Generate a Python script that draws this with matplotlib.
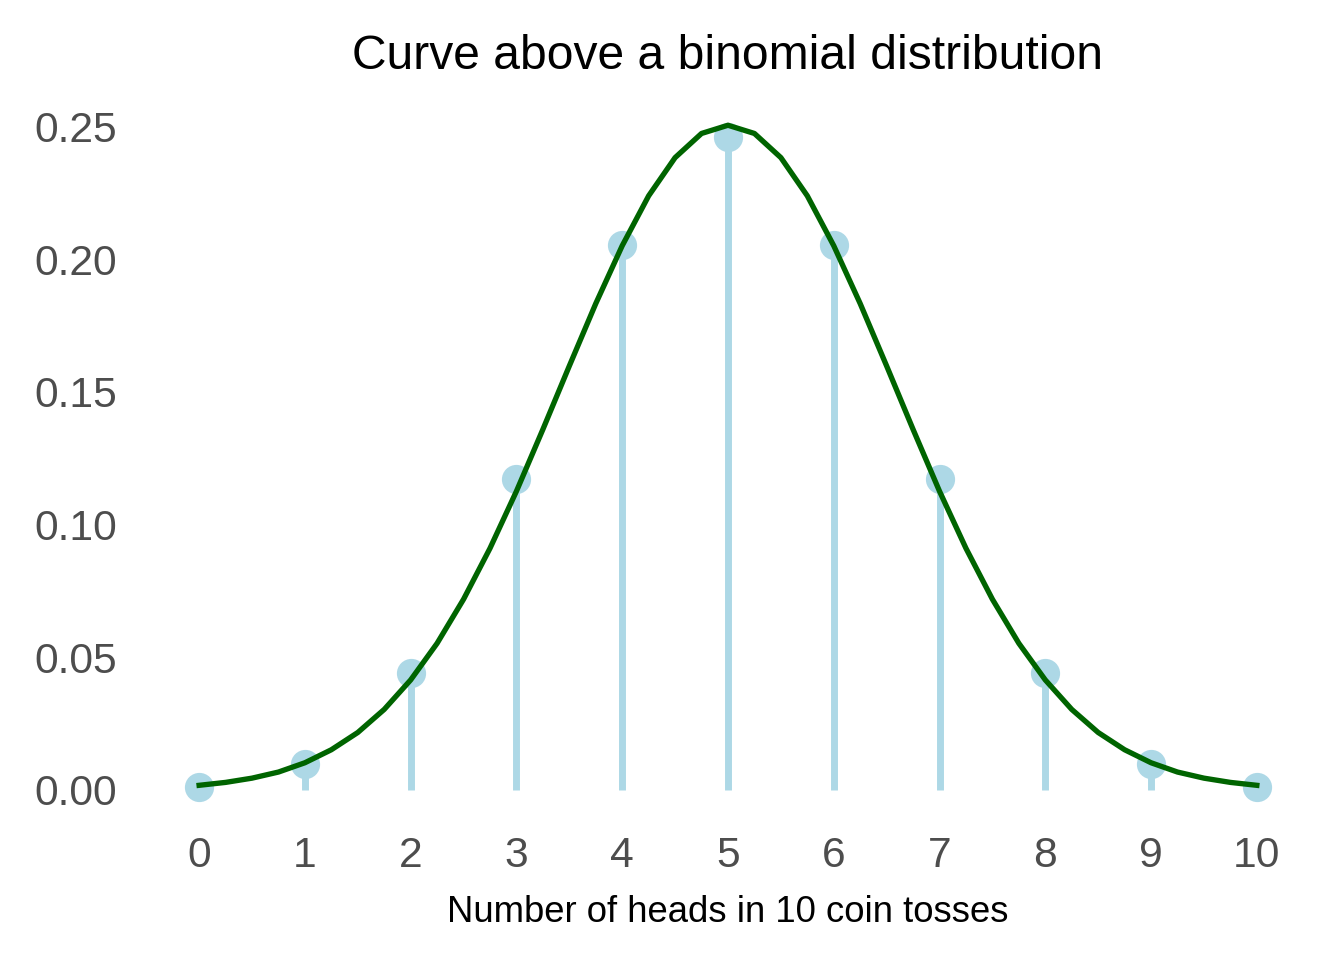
import matplotlib.pyplot as plt

plt.rcParams['font.family'] = ['Liberation Sans', 'DejaVu Sans']

# binomial probabilities, 10 tosses
heads = [0, 1, 2, 3, 4, 5, 6, 7, 8, 9, 10]
prob = [0.001, 0.0098, 0.0439, 0.1172, 0.2051, 0.2461,
        0.2051, 0.1172, 0.0439, 0.0098, 0.001]

# smooth curve
curve_x = [0, 0.25, 0.5, 0.75, 1, 1.25, 1.5, 1.75, 2, 2.25, 2.5, 2.75,
           3, 3.25, 3.5, 3.75, 4, 4.25, 4.5, 4.75, 5,
           5.25, 5.5, 5.75, 6, 6.25, 6.5, 6.75, 7, 7.25, 7.5, 7.75,
           8, 8.25, 8.5, 8.75, 9, 9.25, 9.5, 9.75, 10]
curve_y = [0.0017, 0.0028, 0.0044, 0.0067, 0.0102, 0.0151, 0.0216, 0.0303,
           0.0414, 0.0552, 0.0718, 0.0910, 0.1125, 0.1358, 0.1597, 0.1832,
           0.2050, 0.2238, 0.2382, 0.2473, 0.2504,
           0.2473, 0.2382, 0.2238, 0.2050, 0.1832, 0.1597, 0.1358, 0.1125,
           0.0910, 0.0718, 0.0552, 0.0414, 0.0303, 0.0216, 0.0151, 0.0102,
           0.0067, 0.0044, 0.0028, 0.0017]

fig = plt.figure(figsize=(7, 5), dpi=192)
ax = fig.add_axes([0.1088, 0.1427, 0.8657, 0.7603])

ax.vlines(heads, 0, prob, color='#ADD8E6', lw=2.6)
ax.scatter(heads, prob, s=120, color='#ADD8E6', zorder=3, linewidths=0)
ax.plot(curve_x, curve_y, color='#006400', lw=2.0, zorder=4)

ax.set_xlim(-0.5, 10.5)
ax.set_ylim(-0.0125, 0.2625)
ax.set_xticks(heads)
ax.set_yticks([0, 0.05, 0.10, 0.15, 0.20, 0.25])
ax.set_yticklabels(['0.00', '0.05', '0.10', '0.15', '0.20', '0.25'])
for s in ax.spines.values():
    s.set_visible(False)
ax.tick_params(axis='both', length=0, labelsize=16, labelcolor='#4D4D4D')
ax.tick_params(axis='y', pad=11)
ax.tick_params(axis='x', pad=5)

ax.set_title('Curve above a binomial distribution', fontsize=18, pad=9)
ax.set_xlabel('Number of heads in 10 coin tosses', fontsize=13.7, labelpad=7)

fig.savefig('out.png', dpi=192)
